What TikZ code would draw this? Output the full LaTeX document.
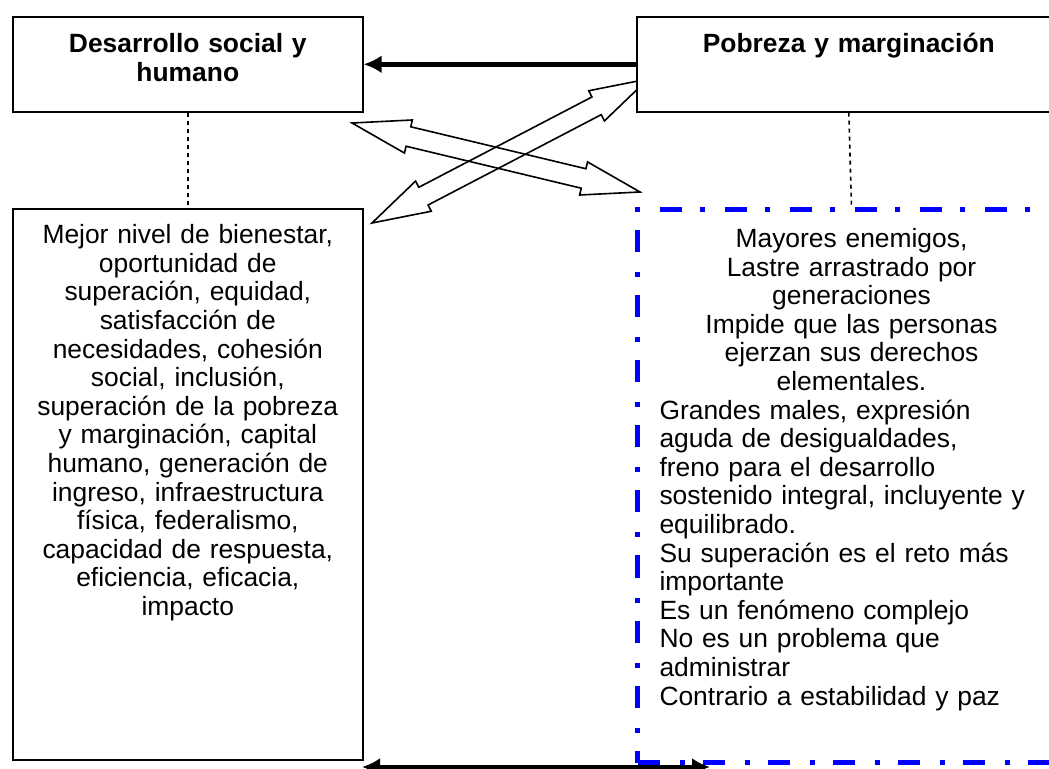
\documentclass[tikz,border=0pt]{standalone}
\usepackage{fontspec}
\setmainfont{Liberation Sans}
\usetikzlibrary{arrows.meta,calc}

\newcommand\harrlen{29pt}
\newcommand\harrhead{8.5pt}
\newcommand\harrshaft{5pt}
\newcommand\hollowarrow[2]{%
  \draw[hollowarr] (#1)
    -- ($(#1)!\harrlen!(#2)!\harrhead!90:(#2)$)
    -- ($(#1)!\harrlen!(#2)!\harrshaft!90:(#2)$)
    -- ($(#2)!\harrlen!(#1)!\harrshaft!-90:(#1)$)
    -- ($(#2)!\harrlen!(#1)!\harrhead!-90:(#1)$)
    -- (#2)
    -- ($(#2)!\harrlen!(#1)!\harrhead!90:(#1)$)
    -- ($(#2)!\harrlen!(#1)!\harrshaft!90:(#1)$)
    -- ($(#1)!\harrlen!(#2)!\harrshaft!-90:(#2)$)
    -- ($(#1)!\harrlen!(#2)!\harrhead!-90:(#2)$)
    -- cycle;}

\tikzset{
  txt/.style={font=\fontsize{13.2pt}{14.3pt}\selectfont},
  box/.style={draw, line width=0.8pt, fill=white, inner sep=4pt, anchor=north west, align=center, txt},
  titlebox/.style={box, font=\fontsize{13.2pt}{14.3pt}\selectfont\bfseries, text height=14pt, text depth=25.5pt},
  bluebox/.style={draw=blue, line width=2.5pt, dash pattern=on 11pt off 10pt on 2.5pt off 9pt,
    inner xsep=11pt, inner ysep=4pt, anchor=north west, txt},
  dotlink/.style={line width=0.8pt, dash pattern=on 2pt off 2pt},
  thickarr/.style={line width=2.5pt, -{Latex[length=9pt,width=9pt]}},
  hollowarr/.style={line width=0.8pt, line join=miter}
}

\begin{document}
\begin{tikzpicture}[x=0.5pt, y=-0.5pt]
  \useasboundingbox (0,0) rectangle (1049,769);

  \coordinate (ha1) at (352,123);
  \coordinate (ha2) at (640,192);
  \coordinate (hb1) at (372,223);
  \coordinate (hb2) at (648,79);
  \hollowarrow{ha1}{ha2}
  \hollowarrow{hb1}{hb2}

  \node[titlebox, text width=167pt] (desarrollo) at (12,16) {Desarrollo social y\\humano};
  \node[titlebox, text width=204pt] (pobreza) at (636,16) {Pobreza y marginación};

  \node[box, text width=167pt, text height=13.5pt, text depth=254pt] (mejor) at (12,208)
    {Mejor nivel de bienestar,\\ oportunidad de\\ superación, equidad,\\ satisfacción de\\
     necesidades, cohesión\\ social, inclusión,\\ superación de la pobreza\\ y marginación, capital\\
     humano, generación de\\ ingreso, infraestructura\\ física, federalismo,\\ capacidad de respuesta,\\
     eficiencia, eficacia,\\ impacto};

  \node[bluebox, text width=192pt, text height=15pt, text depth=253.5pt] (mayores) at (635,207)
    {\centering Mayores enemigos,\\ Lastre arrastrado por\\ generaciones\\ Impide que las personas\\
     ejerzan sus derechos\\ elementales.\par
     \raggedright Grandes males, expresión\\ aguda de desigualdades,\\ freno para el desarrollo\\
     \mbox{sostenido integral, incluyente y}\\ equilibrado.\\ Su superación es el reto más\\ importante\\
     Es un fenómeno complejo\\ No es un problema que\\ administrar\\ Contrario a estabilidad y paz\par};

  \draw[dotlink] (desarrollo.south) -- (mejor.north);
  \draw[dotlink] (pobreza.south) -- (mayores.north);
  \draw[thickarr] (pobreza.west) -- (desarrollo.east);

  \coordinate (bl) at (362,767);
  \coordinate (br) at (710,767);
  \draw[thickarr, {Latex[length=9pt,width=9pt]}-{Latex[length=9pt,width=9pt]}] (bl) -- (br);
\end{tikzpicture}
\end{document}
